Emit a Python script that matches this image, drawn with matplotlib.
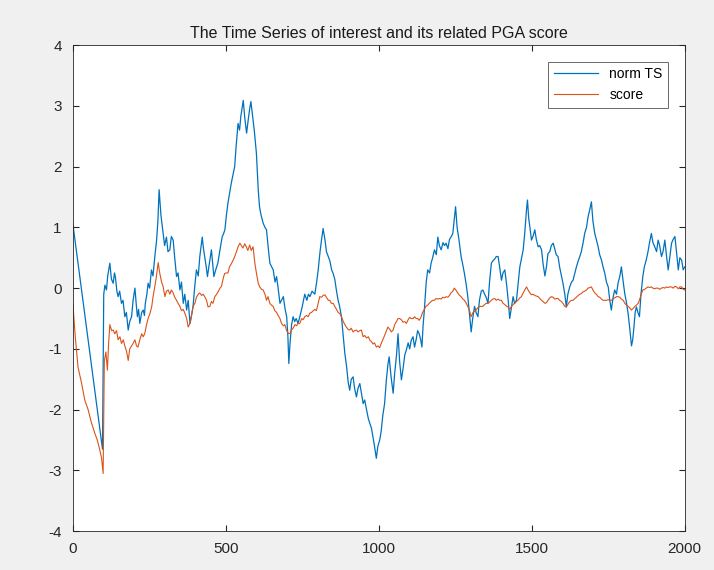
import numpy as np
import matplotlib.pyplot as plt

# values (sample index, value)
norm_ts = [
    (0, 1.06), (97, -2.65), (101, -0.1), (105, 0.05), (110, -0.03), (114, 0.2), (121, 0.41),
    (126, 0.15), (132, 0.08), (136, 0.25), (139, 0.19), (144, -0.05), (148, -0.14), (153, -0.05),
    (159, -0.25), (164, -0.2), (170, -0.47), (175, -0.4), (181, -0.69), (186, -0.55), (192, -0.47),
    (197, -0.2), (203, 0.0), (207, -0.25), (211, -0.47), (215, -0.35), (219, -0.58), (225, -0.4),
    (230, -0.36), (234, -0.45), (237, -0.25), (242, -0.1), (246, 0.08), (251, 0.0), (257, 0.3),
    (262, 0.2), (268, 0.52), (274, 0.8), (278, 1.1), (282, 1.62), (288, 1.2), (295, 0.9),
    (300, 0.7), (306, 0.84), (311, 0.6), (317, 0.63), (322, 0.85), (328, 0.79), (333, 0.5),
    (339, 0.19), (344, 0.25), (350, -0.03), (355, 0.1), (361, -0.25), (366, -0.1), (372, -0.36),
    (377, -0.2), (383, -0.58), (388, -0.45), (393, -0.3), (398, 0.0), (404, 0.3), (410, 0.2),
    (415, 0.52), (423, 0.84), (427, 0.65), (431, 0.52), (436, 0.35), (440, 0.19), (446, 0.4),
    (453, 0.63), (457, 0.4), (461, 0.19), (467, 0.3), (474, 0.41), (480, 0.6), (488, 0.84),
    (493, 0.9), (497, 0.96), (502, 1.2), (507, 1.4), (512, 1.55), (518, 1.73), (523, 1.85),
    (529, 2.0), (534, 2.35), (540, 2.71), (545, 2.6), (549, 2.82), (553, 2.95), (557, 3.09),
    (562, 2.8), (568, 2.55), (574, 2.8), (578, 2.95), (582, 3.07), (587, 2.85), (593, 2.6),
    (600, 2.22), (606, 1.62), (610, 1.35), (614, 1.23), (618, 1.15), (622, 1.07), (628, 1.0),
    (633, 0.96), (638, 0.7), (644, 0.41), (650, 0.35), (655, 0.3), (661, 0.1), (666, 0.19),
    (671, 0.0), (677, -0.25), (682, -0.2), (688, -0.14), (694, -0.35), (699, -0.47), (703, -0.8),
    (706, -1.24), (710, -0.9), (715, -0.6), (720, -0.47), (725, -0.55), (730, -0.5), (736, -0.58),
    (742, -0.47), (750, -0.3), (758, -0.1), (765, -0.2), (770, -0.1), (775, -0.14), (782, -0.05),
    (791, -0.1), (797, 0.1), (802, 0.3), (808, 0.6), (813, 0.8), (818, 0.98), (824, 0.8),
    (829, 0.6), (835, 0.52), (840, 0.45), (846, 0.3), (851, 0.24), (856, 0.15), (862, -0.05),
    (867, -0.2), (872, -0.3), (878, -0.47), (884, -0.8), (889, -1.07), (895, -1.3), (900, -1.55),
    (905, -1.68), (910, -1.5), (916, -1.46), (921, -1.65), (927, -1.79), (932, -1.65),
    (938, -1.57), (944, -1.75), (949, -1.9), (954, -1.84), (960, -2.0), (966, -2.15),
    (971, -2.23), (976, -2.3), (981, -2.45), (986, -2.6), (992, -2.8), (997, -2.6), (1003, -2.5),
    (1008, -2.35), (1013, -2.1), (1019, -1.9), (1025, -1.5), (1030, -1.25), (1034, -1.13),
    (1040, -1.45), (1047, -1.73), (1052, -1.4), (1058, -1.1), (1063, -0.75), (1068, -1.2),
    (1074, -1.51), (1080, -1.3), (1085, -1.1), (1090, -1.02), (1096, -0.9), (1101, -1.0),
    (1106, -0.86), (1112, -0.8), (1117, -0.97), (1122, -0.85), (1127, -0.7), (1132, -0.75),
    (1137, -0.85), (1141, -0.97), (1145, -0.6), (1149, -0.36), (1155, 0.1), (1160, 0.3),
    (1166, 0.25), (1171, 0.41), (1176, 0.5), (1182, 0.63), (1188, 0.55), (1193, 0.84),
    (1198, 0.7), (1204, 0.63), (1210, 0.75), (1215, 0.7), (1220, 0.74), (1226, 0.65), (1231, 0.8),
    (1236, 0.84), (1242, 0.9), (1247, 1.15), (1251, 1.34), (1256, 1.0), (1262, 0.8), (1269, 0.52),
    (1274, 0.4), (1280, 0.24), (1286, 0.05), (1291, -0.14), (1296, -0.4), (1302, -0.72),
    (1307, -0.5), (1313, -0.3), (1318, -0.4), (1324, -0.47), (1329, -0.2), (1335, -0.05),
    (1340, -0.03), (1346, -0.1), (1351, -0.15), (1357, -0.25), (1362, 0.1), (1368, 0.41),
    (1373, 0.45), (1379, 0.48), (1384, 0.52), (1390, 0.52), (1395, 0.35), (1401, 0.13),
    (1406, 0.25), (1412, 0.3), (1418, 0.05), (1423, -0.2), (1428, -0.5), (1434, -0.3),
    (1439, -0.14), (1444, -0.25), (1450, -0.2), (1455, 0.05), (1461, 0.35), (1467, 0.5),
    (1472, 0.63), (1477, 0.9), (1483, 1.3), (1486, 1.45), (1490, 1.15), (1494, 1.0), (1499, 0.79),
    (1504, 0.85), (1510, 0.96), (1515, 0.8), (1521, 0.68), (1526, 0.7), (1532, 0.63), (1537, 0.4),
    (1543, 0.2), (1548, 0.35), (1553, 0.57), (1559, 0.6), (1564, 0.7), (1570, 0.74), (1575, 0.65),
    (1580, 0.55), (1586, 0.52), (1591, 0.35), (1597, 0.2), (1602, 0.08), (1608, -0.1),
    (1613, -0.31), (1618, -0.1), (1624, 0.02), (1630, 0.1), (1635, 0.13), (1641, 0.25),
    (1646, 0.35), (1652, 0.45), (1657, 0.52), (1662, 0.6), (1668, 0.75), (1673, 0.9), (1679, 1.0),
    (1684, 1.17), (1690, 1.3), (1695, 1.42), (1700, 1.1), (1706, 0.9), (1711, 0.8), (1717, 0.68),
    (1722, 0.55), (1728, 0.46), (1733, 0.35), (1739, 0.24), (1744, 0.1), (1750, 0.02),
    (1755, -0.2), (1760, -0.36), (1766, -0.15), (1771, -0.03), (1777, -0.1), (1782, 0.08),
    (1788, 0.2), (1793, 0.35), (1799, 0.1), (1804, -0.09), (1810, -0.25), (1815, -0.42),
    (1820, -0.65), (1826, -0.95), (1830, -0.85), (1834, -0.64), (1838, -0.4), (1842, -0.31),
    (1847, -0.4), (1852, -0.47), (1857, -0.1), (1863, 0.19), (1868, 0.35), (1874, 0.46),
    (1880, 0.6), (1885, 0.75), (1891, 0.9), (1896, 0.75), (1902, 0.68), (1908, 0.6), (1913, 0.79),
    (1918, 0.7), (1924, 0.52), (1929, 0.6), (1935, 0.79), (1940, 0.55), (1946, 0.3), (1951, 0.5),
    (1957, 0.74), (1962, 0.8), (1968, 0.85), (1973, 0.6), (1979, 0.3), (1984, 0.5), (1990, 0.46),
    (1995, 0.3), (2000, 0.35),
]

score = [
    (0, -0.25), (8, -0.8), (17, -1.3), (28, -1.55), (39, -1.84), (50, -2.0), (60, -2.2),
    (72, -2.39), (80, -2.5), (88, -2.66), (94, -2.8), (99, -3.05), (103, -1.2), (108, -1.05),
    (113, -1.35), (117, -0.9), (121, -0.6), (127, -0.7), (132, -0.69), (137, -0.75), (143, -0.7),
    (148, -0.85), (154, -0.8), (159, -0.91), (165, -0.85), (170, -0.95), (176, -1.05),
    (181, -1.19), (186, -1.0), (192, -0.95), (197, -0.91), (203, -0.85), (208, -0.95),
    (213, -0.97), (219, -0.85), (225, -0.75), (230, -0.8), (235, -0.75), (241, -0.6), (246, -0.5),
    (252, -0.42), (258, -0.3), (262, -0.15), (266, -0.03), (272, 0.15), (279, 0.42), (284, 0.25),
    (290, 0.1), (295, 0.03), (301, -0.14), (306, -0.05), (312, -0.03), (317, -0.1), (322, -0.03),
    (328, -0.08), (333, -0.15), (339, -0.2), (344, -0.25), (350, -0.3), (355, -0.37),
    (361, -0.35), (366, -0.41), (372, -0.5), (377, -0.64), (383, -0.58), (388, -0.45),
    (393, -0.3), (399, -0.25), (404, -0.15), (410, -0.1), (415, -0.08), (421, -0.12), (426, -0.1),
    (431, -0.14), (437, -0.2), (442, -0.31), (448, -0.3), (453, -0.22), (458, -0.25), (464, -0.14),
    (470, -0.1), (476, -0.05), (481, 0.0), (486, 0.03), (491, 0.15), (496, 0.24), (502, 0.25),
    (507, 0.25), (512, 0.35), (518, 0.4), (523, 0.45), (529, 0.52), (535, 0.6), (540, 0.68),
    (546, 0.74), (551, 0.7), (556, 0.66), (562, 0.73), (567, 0.68), (572, 0.62), (578, 0.71),
    (583, 0.62), (589, 0.68), (595, 0.41), (600, 0.25), (606, 0.08), (611, 0.02), (617, -0.02),
    (622, -0.03), (628, -0.1), (633, -0.2), (638, -0.14), (644, -0.25), (649, -0.28), (655, -0.3),
    (660, -0.37), (666, -0.4), (671, -0.45), (677, -0.5), (682, -0.58), (688, -0.62), (693, -0.6),
    (699, -0.7), (704, -0.74), (710, -0.75), (715, -0.69), (721, -0.65), (726, -0.6), (731, -0.62),
    (736, -0.58), (742, -0.58), (748, -0.5), (753, -0.52), (758, -0.47), (764, -0.45),
    (769, -0.47), (775, -0.41), (780, -0.4), (786, -0.37), (791, -0.35), (796, -0.37),
    (802, -0.25), (807, -0.14), (813, -0.15), (818, -0.12), (824, -0.11), (829, -0.15),
    (835, -0.2), (840, -0.2), (845, -0.25), (851, -0.25), (856, -0.3), (862, -0.35), (867, -0.4),
    (873, -0.42), (878, -0.47), (884, -0.55), (889, -0.6), (894, -0.64), (900, -0.68),
    (905, -0.69), (910, -0.66), (916, -0.72), (921, -0.7), (927, -0.69), (932, -0.72), (938, -0.7),
    (943, -0.69), (949, -0.8), (954, -0.78), (960, -0.82), (966, -0.8), (971, -0.86), (976, -0.88),
    (981, -0.92), (986, -0.9), (992, -0.97), (997, -0.95), (1003, -0.98), (1008, -0.91),
    (1013, -0.85), (1019, -0.78), (1025, -0.7), (1030, -0.64), (1036, -0.68), (1041, -0.72),
    (1047, -0.69), (1052, -0.6), (1058, -0.55), (1063, -0.5), (1068, -0.5), (1074, -0.52),
    (1079, -0.56), (1085, -0.55), (1090, -0.58), (1096, -0.52), (1101, -0.48), (1106, -0.5),
    (1112, -0.5), (1117, -0.47), (1122, -0.5), (1127, -0.5), (1132, -0.53), (1138, -0.48),
    (1143, -0.4), (1149, -0.35), (1154, -0.3), (1160, -0.28), (1165, -0.25), (1171, -0.22),
    (1176, -0.2), (1182, -0.2), (1187, -0.17), (1193, -0.18), (1198, -0.17), (1204, -0.18),
    (1209, -0.15), (1215, -0.16), (1220, -0.14), (1226, -0.15), (1231, -0.12), (1236, -0.08),
    (1242, -0.05), (1247, 0.0), (1252, -0.03), (1258, -0.08), (1264, -0.12), (1269, -0.14),
    (1275, -0.18), (1280, -0.2), (1286, -0.25), (1291, -0.3), (1297, -0.38), (1302, -0.47),
    (1308, -0.4), (1313, -0.38), (1318, -0.36), (1324, -0.32), (1329, -0.3), (1335, -0.3),
    (1340, -0.3), (1346, -0.27), (1351, -0.25), (1357, -0.25), (1362, -0.23), (1368, -0.2),
    (1373, -0.18), (1379, -0.17), (1384, -0.2), (1390, -0.18), (1395, -0.2), (1401, -0.2),
    (1406, -0.25), (1412, -0.27), (1418, -0.3), (1423, -0.31), (1428, -0.35), (1434, -0.3),
    (1439, -0.27), (1444, -0.25), (1450, -0.22), (1455, -0.2), (1461, -0.16), (1466, -0.14),
    (1472, -0.08), (1477, -0.03), (1483, 0.02), (1488, -0.03), (1494, -0.08), (1499, -0.11),
    (1504, -0.1), (1510, -0.12), (1515, -0.13), (1521, -0.14), (1526, -0.17), (1532, -0.2),
    (1537, -0.22), (1543, -0.25), (1548, -0.24), (1553, -0.2), (1559, -0.16), (1564, -0.14),
    (1570, -0.15), (1575, -0.18), (1581, -0.17), (1586, -0.17), (1591, -0.2), (1597, -0.22),
    (1602, -0.25), (1608, -0.3), (1613, -0.31), (1619, -0.26), (1624, -0.22), (1630, -0.2),
    (1635, -0.2), (1641, -0.17), (1646, -0.15), (1652, -0.12), (1657, -0.1), (1662, -0.09),
    (1668, -0.06), (1673, -0.05), (1679, -0.03), (1684, 0.0), (1690, 0.01), (1695, 0.02),
    (1700, -0.03), (1706, -0.08), (1711, -0.1), (1717, -0.14), (1722, -0.15), (1728, -0.18),
    (1733, -0.2), (1739, -0.2), (1744, -0.2), (1750, -0.19), (1755, -0.2), (1760, -0.2),
    (1766, -0.18), (1771, -0.16), (1777, -0.14), (1782, -0.14), (1788, -0.15), (1793, -0.18),
    (1799, -0.2), (1804, -0.25), (1810, -0.28), (1815, -0.3), (1821, -0.33), (1826, -0.36),
    (1832, -0.33), (1837, -0.3), (1842, -0.28), (1848, -0.25), (1853, -0.18), (1858, -0.1),
    (1863, -0.03), (1869, -0.02), (1874, 0.0), (1880, 0.02), (1885, 0.01), (1891, 0.02),
    (1896, 0.0), (1902, -0.01), (1907, 0.0), (1913, 0.0), (1918, -0.02), (1924, 0.0), (1929, 0.01),
    (1935, 0.0), (1940, 0.02), (1946, 0.01), (1951, 0.02), (1957, 0.02), (1962, 0.0), (1968, 0.03),
    (1973, 0.02), (1979, -0.01), (1984, 0.02), (1990, 0.02), (1995, -0.02), (2000, -0.03),
]

ts_x, ts_y = zip(*norm_ts)
sc_x, sc_y = zip(*score)

plt.rcParams['font.family'] = ['Liberation Sans', 'DejaVu Sans']
plt.rcParams['axes.unicode_minus'] = False

fig = plt.figure(figsize=(7.14, 5.70), dpi=100, facecolor='#f0f0f0')
ax = fig.add_axes([0.102, 0.068, 0.857, 0.853])
ax.plot(ts_x, ts_y, color='#0072BD', lw=0.9, label='norm TS')
ax.plot(sc_x, sc_y, color='#D95319', lw=0.8, label='score')

ax.set_xlim(0, 2000)
ax.set_ylim(-4, 4)
ax.set_xticks([0, 500, 1000, 1500, 2000])
ax.set_yticks(np.arange(-4, 5, 1))
ax.tick_params(direction='in', top=True, right=True, labelsize=11, length=4,
               color='#262626', labelcolor='#262626', pad=8)
for s in ax.spines.values():
    s.set_color('#262626')
    s.set_linewidth(0.6)
ax.set_title('The Time Series of interest and its related PGA score', fontsize=11.5,
             color='#1a1a1a', pad=5)
leg = ax.legend(loc='upper right', fontsize=10, frameon=True, fancybox=False,
                edgecolor='#262626', borderaxespad=1.2, handlelength=3.2)
leg.get_frame().set_linewidth(0.6)

fig.savefig('out.png', dpi=100, facecolor=fig.get_facecolor())
